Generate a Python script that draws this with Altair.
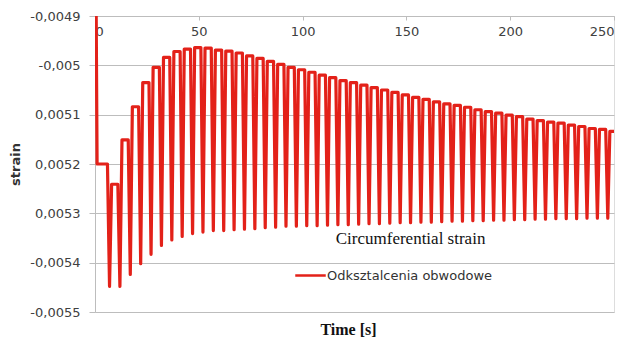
import json
import altair as alt
import pandas as pd

# ---- data ----
start_t = [0, 1, 6]
start_v = [-0.0045, -0.0052, -0.0052]

spike_t = [7, 12, 17, 22, 27, 32, 37, 42, 47, 52, 57, 62, 67, 72, 77, 82, 87, 92, 97, 102,
           107, 112, 117, 122, 127, 132, 137, 142, 147, 152, 157, 162, 167, 172, 177, 182,
           187, 192, 197, 202, 207, 212, 217, 222, 227, 232, 237, 242, 247]
spike_v = [-0.005448, -0.005448, -0.005424, -0.005402, -0.005383, -0.005365, -0.005354,
           -0.005347, -0.005341, -0.005338, -0.005335, -0.005335, -0.005333, -0.005332,
           -0.005331, -0.005329, -0.005328, -0.005326, -0.005326, -0.005325, -0.005325,
           -0.005324, -0.005323, -0.005323, -0.005322, -0.005321, -0.005321, -0.005320,
           -0.005319, -0.005319, -0.005318, -0.005318, -0.005317, -0.005316, -0.005316,
           -0.005315, -0.005315, -0.005314, -0.005314, -0.005313, -0.005313, -0.005312,
           -0.005312, -0.005311, -0.005311, -0.005311, -0.005310, -0.005310, -0.005310]

rise_t = [8, 13, 18, 23, 28, 33, 38, 43, 48, 53, 58, 63, 68, 73, 78, 83, 88, 93, 98, 103,
          108, 113, 118, 123, 128, 133, 138, 143, 148, 153, 158, 163, 168, 173, 178, 183,
          188, 193, 198, 203, 208, 213, 218, 223, 228, 233, 238, 243, 248]
fall_t = [11, 16, 21, 26, 31, 36, 41, 46, 51, 56, 61, 66, 71, 76, 81, 86, 91, 96, 101, 106,
          111, 116, 121, 126, 131, 136, 141, 146, 151, 156, 161, 166, 171, 176, 181, 186,
          191, 196, 201, 206, 211, 216, 221, 226, 231, 236, 241, 246, 250]
high_v = [-0.005241, -0.005151, -0.005084, -0.005035, -0.005004, -0.004984, -0.004972,
          -0.004967, -0.004964, -0.004965, -0.004969, -0.004971, -0.004975, -0.004981,
          -0.004986, -0.004992, -0.004998, -0.005004, -0.005009, -0.005014, -0.005020,
          -0.005025, -0.005031, -0.005035, -0.005040, -0.005045, -0.005050, -0.005055,
          -0.005060, -0.005065, -0.005069, -0.005074, -0.005078, -0.005081, -0.005085,
          -0.005090, -0.005094, -0.005097, -0.005101, -0.005104, -0.005109, -0.005112,
          -0.005115, -0.005117, -0.005121, -0.005124, -0.005128, -0.005130, -0.005134]

x_ticks = [0, 50, 100, 150, 200, 250]
y_ticks = [-0.0055, -0.0054, -0.0053, -0.0052, -0.0051, -0.005, -0.0049]
y_labels = ["-0,0055", "-0,0054", "0,0053", "0,0052", "0,0051", "-0,005", "-0,0049"]

series_name = "Odksztalcenia obwodowe"
note_text = ["Circumferential strain"]
note_t = [152]
note_v = [-0.005353]

# ---- build table ----
ts = list(start_t)
vs = list(start_v)
for st, sv, rt, ft, hv in zip(spike_t, spike_v, rise_t, fall_t, high_v):
    ts += [st, rt, ft]
    vs += [sv, hv, hv]
df = pd.DataFrame({"t": ts, "v": vs, "series": series_name})
note_df = pd.DataFrame({"t": note_t, "v": note_v, "txt": note_text})

RED = "#E32119"
GRID = "#BDBDBD"
W, H = 519, 296

label_expr = json.dumps(y_labels) + "[round((datum.value + 0.0055) * 10000)]"

x_enc = alt.X("t:Q",
              scale=alt.Scale(domain=[0, 250], nice=False),
              axis=alt.Axis(orient="bottom", offset=-H, values=x_ticks, format="d",
                            title=None, grid=False, tickSize=4, tickColor=GRID,
                            domainColor=GRID, labelFont="DejaVu Sans", labelFontSize=13,
                            labelColor="#404040", labelPadding=5))
y_enc = alt.Y("v:Q",
              scale=alt.Scale(domain=[-0.0055, -0.0049], nice=False, zero=False),
              axis=alt.Axis(values=y_ticks, labelExpr=label_expr, title="strain",
                            titleFont="DejaVu Sans", titleFontSize=13, titleFontWeight="bold",
                            titleColor="#333333", titlePadding=7,
                            labelFont="DejaVu Sans", labelFontSize=13, labelColor="#404040",
                            labelPadding=9, tickSize=6, tickColor=GRID, domainColor=GRID,
                            grid=True, gridColor=GRID))

line = alt.Chart(df).mark_line(clip=True, strokeWidth=3.2, strokeJoin="round").encode(
    x=x_enc, y=y_enc,
    color=alt.Color("series:N", scale=alt.Scale(range=[RED]),
                    legend=alt.Legend(orient="none", legendX=199, legendY=243, title=None,
                                      symbolType="stroke", symbolSize=930,
                                      symbolStrokeWidth=2.5, labelFont="DejaVu Sans",
                                      labelFontSize=13, labelColor="#333333",
                                      labelOffset=0, labelLimit=400, padding=0)),
)

note = alt.Chart(note_df).mark_text(font="Liberation Serif", fontSize=17, color="#111111").encode(
    x="t:Q", y="v:Q", text="txt:N")

chart = alt.layer(line, note).properties(
    width=W, height=H,
    title=alt.TitleParams(text="Time [s]", orient="bottom", font="Liberation Serif",
                          fontSize=16, fontWeight="bold", color="#111111", offset=3, dx=-6),
    autosize=alt.AutoSizeParams(type="none"),
    padding={"left": 87, "top": 8, "right": 6, "bottom": 28},
).configure_view(strokeWidth=0).configure(background="white")

chart.save("out.html", embed_options={"renderer": "svg", "actions": False})
